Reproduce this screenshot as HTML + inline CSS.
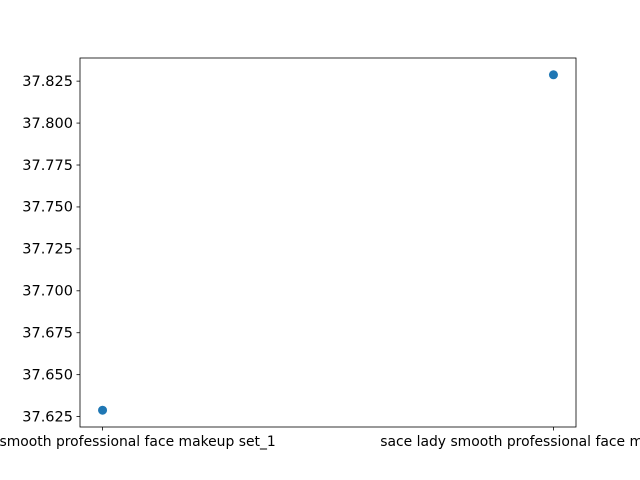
<!DOCTYPE html>
<html><head><meta charset="utf-8"><style>html,body{margin:0;padding:0;background:#fff}svg{display:block}</style></head>
<body>
<svg id="chart" width="640" height="480" xmlns="http://www.w3.org/2000/svg" font-family="DejaVu Sans, Liberation Sans, sans-serif" font-size="13.9">
<rect width="640" height="480" fill="#fff"/>
<g id="plot"></g>
</svg>
<script>
const categories = ["sace lady smooth professional face makeup set_1", "sace lady smooth professional face makeup set_2"];
const values = [37.6288, 37.8288];
const yTicks = [37.625, 37.650, 37.675, 37.700, 37.725, 37.750, 37.775, 37.800, 37.825];

const L=80,R=576,T=58,B=427;
const NS="http://www.w3.org/2000/svg";
const g=document.getElementById('plot');
const xmin=-0.05*(categories.length-1), xmax=(categories.length-1)*1.05;
const vmin=Math.min(...values), vmax=Math.max(...values), m=(vmax-vmin)*0.05;
const ymin=vmin-m, ymax=vmax+m;
const xs=i=>L+(i-xmin)/(xmax-xmin)*(R-L);
const ys=v=>B-(v-ymin)/(ymax-ymin)*(B-T);
function el(t,a){const e=document.createElementNS(NS,t);for(const k in a)e.setAttribute(k,a[k]);g.appendChild(e);return e;}
yTicks.forEach(v=>{const y=ys(v);
 const t=el('line',{x1:L-3.5,x2:L,y1:y,y2:y,stroke:'#000','stroke-width':0.8});
 
 
 const l=el('text',{x:L-7,y:y+4.8,'text-anchor':'end',fill:'#000','font-size':14.5});l.textContent=v.toFixed(3);
 
 
});
categories.forEach((c,i)=>{const x=xs(i);
 const t=el('line',{x1:x,x2:x,y1:B,y2:B+3.5,stroke:'#000','stroke-width':0.8});
 
 
 const l=el('text',{x:x,y:B+19,'text-anchor':'middle',fill:'#000'});l.textContent=c;
 
 
});
values.forEach((v,i)=>{
 const p=el('circle',{cx:xs(i),cy:ys(v),r:4.5,fill:'#1f77b4'});
 
 
});
const f=el('rect',{x:L,y:T,width:R-L,height:B-T,fill:'none',stroke:'#000','stroke-width':0.8});


</script>
</body></html>
